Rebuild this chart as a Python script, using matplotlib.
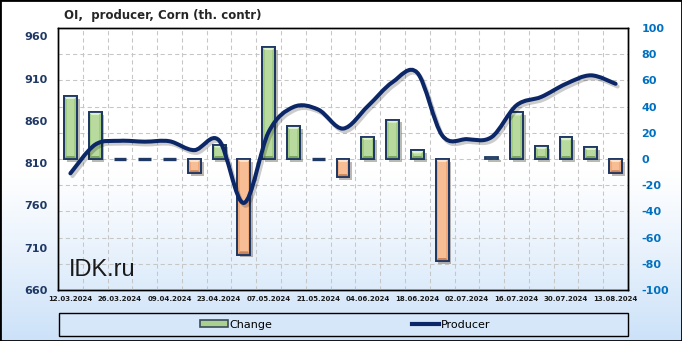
import numpy as np
import matplotlib
matplotlib.use("Agg")
import matplotlib.pyplot as plt
from matplotlib.path import Path
from matplotlib.patches import PathPatch, Rectangle, Polygon
from matplotlib.lines import Line2D
import matplotlib.patheffects as pe

# ---------------- data ----------------
dates = ["12.03.2024", "19.03.2024", "26.03.2024", "02.04.2024", "09.04.2024",
         "16.04.2024", "23.04.2024", "30.04.2024", "07.05.2024", "14.05.2024",
         "21.05.2024", "28.05.2024", "04.06.2024", "11.06.2024", "18.06.2024",
         "25.06.2024", "02.07.2024", "09.07.2024", "16.07.2024", "23.07.2024",
         "30.07.2024", "06.08.2024", "13.08.2024"]
producer = [798, 832, 836.5, 835.5, 836, 825.5, 837, 763, 847, 876.5, 873.5,
            851, 877.5, 906, 917, 843, 838.5, 841, 878.5, 888.5, 904, 914, 904]
change = [48, 36, 0, 0, 0, -11, 11, -73, 85.5, 25, 0, -14, 17, 30, 6.5, -78,
          np.nan, 1.5, 35.5, 10, 16.5, 9, -11]
left_ticks = [660, 710, 760, 810, 860, 910, 960]
right_ticks = [-100, -80, -60, -40, -20, 0, 20, 40, 60, 80, 100]
title = "OI,  producer, Corn (th. contr)"

W, H = 682, 341
fig = plt.figure(figsize=(W / 100, H / 100), dpi=100)

# background gradient
bg = fig.add_axes([0, 0, 1, 1], zorder=-10)
bg.axis("off")
t = np.linspace(0, 1, 341)
frac = np.clip((t - 0.5) / 0.5, 0, 1) ** 1.1
top_c = np.array([1.0, 1.0, 1.0])
bot_c = np.array([0.80, 0.885, 0.975])
img = top_c[None, :] * (1 - frac[:, None]) + bot_c[None, :] * frac[:, None]
bg.imshow(img[:, None, :], aspect="auto", extent=[0, 1, 0, 1])
bg.set_xlim(0, 1)
bg.set_ylim(0, 1)

rect = [58 / W, 1 - 290 / H, 570 / W, 262 / H]
ax = fig.add_axes(rect)
ax2 = ax.twinx()
ax.set_zorder(ax2.get_zorder() + 1)
ax.patch.set_visible(False)
ax2.patch.set_visible(False)

n = len(dates)
x = np.arange(n)
ax.set_xlim(-0.5, n - 0.5)
ax.set_ylim(660, 970)
ax2.set_ylim(-100, 100)

grid_kw = dict(color="#c6c6c6", lw=0.75, ls=(0, (4, 3)))
ax2.set_yticks(right_ticks)
ax2.yaxis.grid(True, **grid_kw)
ax2.set_axisbelow(True)
ax.set_xticks(np.arange(0.5, n - 1, 1), minor=True)
ax.xaxis.grid(True, which="minor", **grid_kw)
ax.set_axisbelow(True)

# ---------------- bars ----------------
bw = 0.52
inner_w = bw * 0.58
inset = 2.4
green = dict(side="#a2cb84", inner="#b8da9e", top="#def1cf", bot="#7ca660")
orange = dict(side="#f0aa7a", inner="#f7be95", top="#fde2cc", bot="#c9845a")
edge = "#1f3864"
for xi, v in zip(x, change):
    if np.isnan(v):
        continue
    c = green if v >= 0 else orange
    lw = 2.4 if abs(v) < 1 else 1.3
    ax2.bar(xi, v, width=bw, color=c["side"], edgecolor=edge, lw=lw, zorder=2,
            path_effects=[pe.SimplePatchShadow(offset=(2, -2), alpha=0.35, rho=0.3),
                          pe.Normal()])
    hi, lo = max(v, 0), min(v, 0)
    if hi - lo > 2.5 * inset:
        l, r = xi - bw / 2, xi + bw / 2
        il, ir = xi - inner_w / 2, xi + inner_w / 2
        ax2.add_patch(Polygon([(l, hi), (r, hi), (ir, hi - inset), (il, hi - inset)],
                              closed=True, fc=c["top"], ec="none", zorder=3))
        ax2.add_patch(Polygon([(l, lo), (r, lo), (ir, lo + inset), (il, lo + inset)],
                              closed=True, fc=c["bot"], ec="none", zorder=3))
        ax2.bar(xi, (hi - inset) - (lo + inset), bottom=lo + inset, width=inner_w,
                color=c["inner"], edgecolor="none", zorder=3)
        ax2.bar(xi, v, width=bw, fill=False, edgecolor=edge, lw=1.3, zorder=4)

# ---------------- smooth line ----------------
pts = np.column_stack([x, producer]).astype(float)
verts = [tuple(pts[0])]
codes = [Path.MOVETO]
for i in range(n - 1):
    p0 = pts[max(i - 1, 0)]
    p1 = pts[i]
    p2 = pts[i + 1]
    p3 = pts[min(i + 2, n - 1)]
    c1 = p1 + (p2 - p0) / 6.0
    c2 = p2 - (p3 - p1) / 6.0
    verts += [tuple(c1), tuple(c2), tuple(p2)]
    codes += [Path.CURVE4] * 3
line_color = "#0b2767"
patch = PathPatch(Path(verts, codes), fill=False, ec=line_color, lw=2.9,
                  capstyle="round", joinstyle="round", zorder=5,
                  path_effects=[pe.SimpleLineShadow(offset=(1.5, -2), shadow_color="k",
                                                    alpha=0.2),
                                pe.Normal()])
ax.add_patch(patch)

# ---------------- ticks ----------------
ax.set_xticks(x[::2])
ax.set_xticklabels(dates[::2], fontsize=5, fontweight="bold", color="#1a1a1a")
ax.tick_params(axis="x", which="both", length=0, pad=4.5)
ax.set_yticks(left_ticks)
ax.set_yticklabels([str(v) for v in left_ticks], fontsize=8, fontweight="bold",
                   color="#1f3864")
ax.tick_params(axis="y", length=0, pad=7.5)
ax2.set_yticklabels([str(v) for v in right_ticks], fontsize=8, fontweight="bold",
                    color="#0070c0")
ax2.tick_params(axis="y", length=0, pad=9.5)
for a in (ax, ax2):
    for s in a.spines.values():
        s.set_color("black")
        s.set_linewidth(1.0)

# ---------------- texts ----------------
fig.text(64 / W, 1 - 15 / H, title, fontsize=8.5, fontweight="bold",
         color="#262626", va="center", ha="left")
fig.text(69 / W, 1 - 276 / H, "IDK.ru", fontsize=17, family="Liberation Sans",
         color="#1a1a1a", va="baseline", ha="left")

# ---------------- legend ----------------
fig.add_artist(Rectangle((59 / W, 1 - 336 / H), 569 / W, 23 / H,
                         transform=fig.transFigure, fc="#d6e7fa", ec="black", lw=1.0))
handles = [Rectangle((0, 0), 1, 1, fc="#a9d08e", ec="#3c4c5c", lw=1.2),
           Line2D([0], [0], color=line_color, lw=3)]
fig.legend(handles, ["Change", "Producer"], loc="center",
           bbox_to_anchor=(345.5 / W, 1 - 324.5 / H), ncol=2, frameon=False,
           fontsize=8, handlelength=2.5, handleheight=0.6, handletextpad=0.15,
           columnspacing=12.5, borderaxespad=0, borderpad=0)

fig.add_artist(Rectangle((0, 0), 1, 1, transform=fig.transFigure, fill=False,
                         ec="black", lw=2))

fig.savefig("out.png", dpi=100)
